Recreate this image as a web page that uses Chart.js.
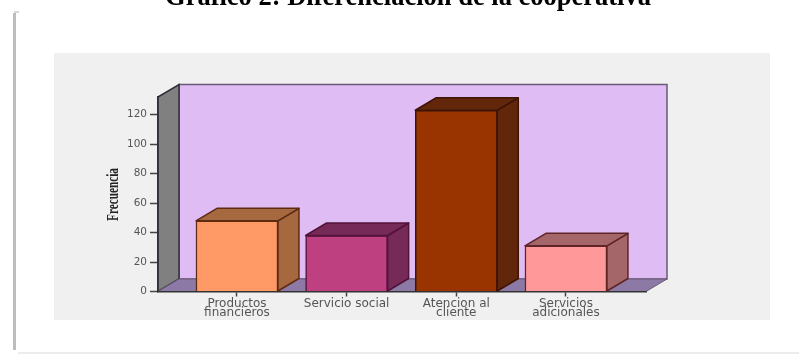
<!DOCTYPE html>
<html>
<head>
<meta charset="utf-8">
<style>
  html, body { margin: 0; padding: 0; background: #fff; overflow: hidden; }
  canvas { display: block; filter: blur(0.4px); }
</style>
<script src="https://cdn.jsdelivr.net/npm/chart.js@4/dist/chart.umd.min.js"></script>
</head>
<body>
<canvas id="chart" width="799" height="354"></canvas>
<script>
const chartTitle = "Gráfico 2: Diferenciación de la cooperativa";
const yAxisTitle = "Frecuencia";
const categories = [["Productos", "financieros"], ["Servicio social"], ["Atencion al", "cliente"], ["Servicios", "adicionales"]];
const frecuencia = [48, 38, 123, 31];
const yTicks = [0, 20, 40, 60, 80, 100, 120];
const frontColors = ["#ff9966", "#bf4080", "#993300", "#ff9999"];
const sideColors = ["#a6683f", "#762a57", "#62260a", "#a5666a"];
const edgeColors = ["#5e2a12", "#52123a", "#3e1405", "#5e2426"];

const DEPTH_X = 21;
const DEPTH_Y = -12.5;

function poly(ctx, pts, fill, stroke, width) {
  ctx.beginPath();
  pts.forEach((p, i) => (i ? ctx.lineTo(p[0], p[1]) : ctx.moveTo(p[0], p[1])));
  ctx.closePath();
  ctx.fillStyle = fill;
  ctx.fill();
  if (stroke) {
    ctx.strokeStyle = stroke;
    ctx.lineWidth = width;
    ctx.stroke();
  }
}

// page frame, grey panel, back wall, left wall and floor
const backdrop = {
  id: "backdrop",
  beforeDraw(chart) {
    const { ctx, chartArea: a } = chart;
    ctx.save();
    ctx.fillStyle = "#fff";
    ctx.fillRect(0, 0, 799, 354);

    ctx.fillStyle = "#bdbdbd";
    ctx.fillRect(13, 13, 3, 337);
    ctx.fillStyle = "#d8d8d8";
    ctx.fillRect(14, 11, 5, 2);
    ctx.fillStyle = "#ececec";
    ctx.fillRect(18, 352, 781, 2);

    ctx.fillStyle = "#f0f0f0";
    ctx.fillRect(54, 53, 716, 267);

    const bx = a.left + DEPTH_X, tx = a.right + DEPTH_X;
    const topY = a.top + DEPTH_Y, floorY = a.bottom + DEPTH_Y;
    poly(ctx, [[bx, topY], [tx, topY], [tx, floorY], [bx, floorY]], "#e0bcf5", "#6a5a78", 1.5);
    poly(ctx, [[a.left, a.top], [bx, topY], [bx, floorY], [a.left, a.bottom]], "#808080", "#2f2f3a", 1.5);
    poly(ctx, [[a.left, a.bottom], [bx, floorY], [tx, floorY], [a.right, a.bottom]], "#8d79a5", "#6a5a78", 1);
    ctx.restore();
  }
};

// side and top faces of each bar, taken from the bar the library placed
const barFaces = {
  id: "barFaces",
  afterDatasetsDraw(chart) {
    const { ctx } = chart;
    ctx.save();
    ctx.lineJoin = "round";
    chart.getDatasetMeta(0).data.forEach((bar, i) => {
      const left = bar.x - bar.width / 2, right = bar.x + bar.width / 2;
      poly(ctx, [[right, bar.y], [right + DEPTH_X, bar.y + DEPTH_Y], [right + DEPTH_X, bar.base + DEPTH_Y], [right, bar.base]], sideColors[i], edgeColors[i], 1.5);
      poly(ctx, [[left, bar.y], [left + DEPTH_X, bar.y + DEPTH_Y], [right + DEPTH_X, bar.y + DEPTH_Y], [right, bar.y]], sideColors[i], edgeColors[i], 1.5);
    });
    ctx.restore();
  }
};

// title cut by the top edge and the squeezed axis title
const headings = {
  id: "headings",
  afterDraw(chart) {
    const { ctx } = chart;
    ctx.save();
    ctx.fillStyle = "#000";
    ctx.font = "bold 26.5px 'Liberation Serif'";
    ctx.textAlign = "center";
    ctx.textBaseline = "alphabetic";
    ctx.fillText(chartTitle, 408, 4.5);
    ctx.restore();

    ctx.save();
    ctx.fillStyle = "#222";
    ctx.font = "bold 16px 'Liberation Serif'";
    ctx.textAlign = "center";
    ctx.textBaseline = "middle";
    ctx.translate(114, 194.5);
    ctx.rotate(-Math.PI / 2);
    ctx.scale(53 / ctx.measureText(yAxisTitle).width, 1);
    ctx.fillText(yAxisTitle, 0, 0);
    ctx.restore();
  }
};

new Chart(document.getElementById("chart").getContext("2d"), {
  type: "bar",
  data: {
    datasets: [{
      data: frecuencia.map((v, i) => ({ x: i, y: v })),
      backgroundColor: frontColors,
      borderColor: edgeColors,
      borderWidth: 1.5,
      barThickness: 82
    }]
  },
  plugins: [backdrop, barFaces, headings],
  options: {
    responsive: false,
    animation: false,
    layout: { padding: { left: 105, top: 97, right: 153, bottom: 32.5 } },
    plugins: { legend: { display: false }, title: { display: false }, tooltip: { enabled: false } },
    scales: {
      x: {
        type: "linear",
        offset: false,
        min: -0.72,
        max: 3.73,
        afterBuildTicks: (scale) => { scale.ticks = categories.map((c, i) => ({ value: i })); },
        afterFit: (scale) => { scale.height = 30; },
        grid: { offset: false, drawOnChartArea: false, tickLength: 5, color: "#444", tickWidth: 1.5 },
        border: { color: "#333", width: 1.5 },
        ticks: {
          autoSkip: false,
          maxRotation: 0,
          padding: 3,
          color: "#555",
          font: { family: "'DejaVu Sans'", size: 12, lineHeight: 0.75 },
          callback: (v) => categories[v]
        }
      },
      y: {
        min: 0,
        max: 132,
        afterBuildTicks: (scale) => { scale.ticks = yTicks.map((v) => ({ value: v })); },
        afterFit: (scale) => { scale.width = 53; },
        grid: { drawOnChartArea: false, tickLength: 8, color: "#444", tickWidth: 1.5 },
        border: { color: "#2f2f3a", width: 1.5 },
        ticks: {
          padding: 3,
          color: "#555",
          font: { family: "'DejaVu Sans'", size: 10.5 }
        }
      }
    }
  }
});
</script>
</body>
</html>
